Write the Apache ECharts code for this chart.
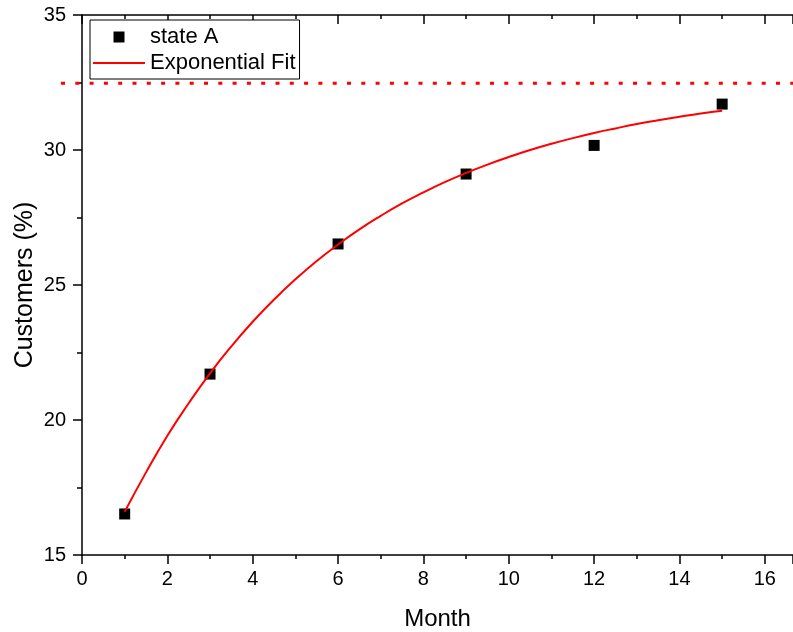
<!DOCTYPE html>
<html>
<head>
<meta charset="utf-8">
<script src="https://cdn.jsdelivr.net/npm/echarts@6/dist/echarts.min.js"></script>
<style>html,body{margin:0;padding:0;background:#fff;}#c{width:793px;height:632px;}</style>
</head>
<body>
<div id="c"></div>
<script>
// Measured data
var months = [1, 3, 6, 9, 12, 15];
var customers = [16.52, 21.70, 26.52, 29.11, 30.17, 31.70];
// Fit curve
var fitX = [1, 1.5, 2, 2.5, 3, 3.5, 4, 4.5, 5, 5.5, 6, 6.5, 7, 7.5, 8, 8.5, 9, 9.5, 10, 10.5, 11, 11.5, 12, 12.5, 13, 13.5, 14, 14.5, 15];
var fitY = [16.60, 18.06, 19.42, 20.62, 21.73, 22.73, 23.64, 24.46, 25.21, 25.89, 26.50, 27.06, 27.56, 28.02, 28.43, 28.81, 29.15, 29.46, 29.74, 30.00, 30.23, 30.44, 30.63, 30.80, 30.96, 31.10, 31.23, 31.35, 31.45];
// Asymptote (dotted), extends slightly left of the y axis
var asymX = [-0.49, 16.66];
var asymY = [32.47, 32.47];
var xTicks = ['0','2','4','6','8','10','12','14','16'];
var xMax = 16.66;

var fnt = 'Liberation Sans, Arial, sans-serif';
var axisLine = {show: true, onZero: false, lineStyle: {color: '#000', width: 1.5}};

var chart = echarts.init(document.getElementById('c'), null, {renderer: 'canvas'});
chart.setOption({
  animation: false,
  backgroundColor: '#fff',
  grid: [
    {left: 82, top: 15, right: 0, height: 540, containLabel: false, outerBoundsMode: 'none'},
    {left: 61, top: 15, right: 0, height: 540, containLabel: false, outerBoundsMode: 'none'}
  ],
  legend: {
    orient: 'vertical', left: 90, top: 20,
    padding: [5, 4, 4, 2], itemGap: 2,
    itemWidth: 52, itemHeight: 11,
    borderColor: '#000', borderWidth: 1, backgroundColor: '#fff',
    textStyle: {fontFamily: fnt, fontSize: 22, color: '#000', lineHeight: 24},
    data: [
      {name: 'state A', icon: 'path://M0,0H10V10H0Z'},
      {name: 'Exponential Fit', itemStyle: {opacity: 0}}
    ]
  },
  xAxis: [{
    type: 'value', gridIndex: 0, min: 0, max: xMax, interval: 2, position: 'bottom',
    name: 'Month', nameLocation: 'middle', nameGap: 52, nameMoveOverlap: false,
    nameTextStyle: {fontFamily: fnt, fontSize: 24, color: '#000'},
    axisLine: axisLine,
    axisTick: {show: true, inside: false, length: 9, lineStyle: {color: '#000', width: 1.5}},
    minorTick: {show: true, splitNumber: 2, length: 4, lineStyle: {color: '#000', width: 1.5}},
    axisLabel: {fontFamily: fnt, fontSize: 20, color: '#000', margin: 14, showMaxLabel: false,
      formatter: function (v) { return xTicks.indexOf(String(v)) >= 0 ? String(v) : ''; }},
    splitLine: {show: false}
  }, {
    type: 'value', gridIndex: 0, min: 0, max: xMax, interval: 2, position: 'top',
    axisLine: axisLine,
    axisTick: {show: true, inside: true, length: 9, lineStyle: {color: '#000', width: 1.5}},
    minorTick: {show: true, splitNumber: 2, length: 4, lineStyle: {color: '#000', width: 1.5}},
    axisLabel: {show: false},
    splitLine: {show: false}
  }, {
    type: 'value', gridIndex: 1, min: asymX[0], max: xMax, show: false
  }],
  yAxis: [{
    type: 'value', gridIndex: 0, min: 15, max: 35, interval: 5, position: 'left',
    name: 'Customers (%)', nameLocation: 'middle', nameGap: 44, nameMoveOverlap: false,
    nameTextStyle: {fontFamily: fnt, fontSize: 25, color: '#000'},
    axisLine: axisLine,
    axisTick: {show: true, inside: false, length: 9, lineStyle: {color: '#000', width: 1.5}},
    minorTick: {show: true, splitNumber: 2, length: 5, lineStyle: {color: '#000', width: 1.5}},
    axisLabel: {fontFamily: fnt, fontSize: 20, color: '#000', margin: 16},
    splitLine: {show: false}
  }, {
    type: 'value', gridIndex: 1, min: 15, max: 35, show: false
  }],
  series: [{
    name: 'asymptote', type: 'line', xAxisIndex: 2, yAxisIndex: 1, symbol: 'none', silent: true,
    data: asymX.map(function (x, i) { return [x, asymY[i]]; }),
    lineStyle: {color: '#ff0000', width: 3, type: [4, 10.3]},
    z: 1
  }, {
    name: 'Exponential Fit', type: 'line', xAxisIndex: 0, yAxisIndex: 0, symbol: 'none', smooth: true,
    data: fitX.map(function (x, i) { return [x, fitY[i]]; }),
    lineStyle: {color: '#ff0000', width: 2},
    itemStyle: {color: '#ff0000'},
    z: 3
  }, {
    name: 'state A', type: 'scatter', xAxisIndex: 0, yAxisIndex: 0,
    symbol: 'rect', symbolSize: 11, symbolKeepAspect: true,
    data: months.map(function (x, i) { return [x, customers[i]]; }),
    itemStyle: {color: '#000', opacity: 1},
    z: 2
  }]
});
</script>
</body>
</html>
